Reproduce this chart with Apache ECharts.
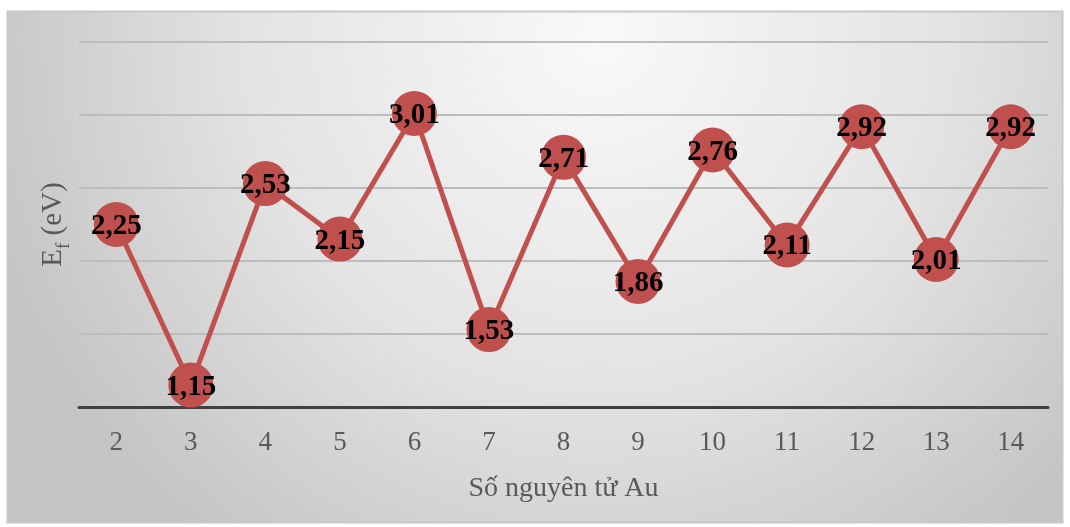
<!DOCTYPE html>
<html>
<head>
<meta charset="utf-8">
<script src="https://cdn.jsdelivr.net/npm/echarts@6/dist/echarts.min.js"></script>
<style>
  html, body { margin: 0; padding: 0; background: #ffffff; }
  #chart { width: 1070px; height: 527px; }
</style>
</head>
<body>
<div id="chart"></div>
<script>
// Number of Au atoms in the cluster
const atomCounts = ['2', '3', '4', '5', '6', '7', '8', '9', '10', '11', '12', '13', '14'];
// Formation energy E_f (eV) for each cluster size
const formationEnergy = [2.25, 1.15, 2.53, 2.15, 3.01, 1.53, 2.71, 1.86, 2.76, 2.11, 2.92, 2.01, 2.92];

const serif = '"Liberation Serif", "Times New Roman", serif';
const chart = echarts.init(document.getElementById('chart'));

chart.setOption({
  animation: false,
  graphic: [{
    type: 'rect',
    z: -10,
    silent: true,
    shape: { x: 7.5, y: 11.5, width: 1055, height: 511 },
    style: {
      fill: new echarts.graphic.RadialGradient(0.56, 0.05, 1.25, [
        { offset: 0, color: '#f9f9f9' },
        { offset: 0.55, color: '#e3e3e3' },
        { offset: 1, color: '#c4c4c4' }
      ]),
      stroke: '#c8c8c8',
      lineWidth: 2
    }
  }],
  grid: { left: 79, right: 22, top: 42, bottom: 120 },
  xAxis: {
    type: 'category',
    data: atomCounts,
    boundaryGap: true,
    name: 'Số nguyên tử Au',
    nameLocation: 'middle',
    nameGap: 68,
    nameTextStyle: { fontFamily: serif, fontSize: 28, color: '#595959' },
    axisLine: { lineStyle: { color: '#404040', width: 3 } },
    axisTick: { show: false },
    axisLabel: { fontFamily: serif, fontSize: 27, color: '#595959', margin: 22 }
  },
  yAxis: {
    type: 'value',
    min: 1,
    max: 3.5,
    interval: 0.5,
    name: '{e|E}{s|f}{e| (eV)}',
    nameLocation: 'middle',
    nameGap: 5,
    nameRotate: 90,
    nameTextStyle: {
      fontFamily: serif,
      color: '#595959',
      rich: {
        e: { fontFamily: serif, fontSize: 29, lineHeight: 29, verticalAlign: 'bottom', padding: [0, 0, 6, 0], color: '#595959' },
        s: { fontFamily: serif, fontSize: 19, lineHeight: 19, verticalAlign: 'bottom', color: '#595959' }
      }
    },
    axisLine: { show: false },
    axisTick: { show: false },
    axisLabel: { show: false },
    splitLine: { lineStyle: { color: '#bcbcbc', width: 2 } }
  },
  series: [{
    type: 'line',
    data: formationEnergy,
    symbol: 'circle',
    symbolSize: 45,
    lineStyle: { color: '#c0504d', width: 5 },
    itemStyle: { color: '#c0504d' },
    label: {
      show: true,
      position: 'inside',
      offset: [0, 2],
      fontFamily: serif,
      fontWeight: 'bold',
      fontSize: 29,
      color: '#000000',
      formatter: p => p.value.toFixed(2).replace('.', ',')
    }
  }]
});
</script>
</body>
</html>
